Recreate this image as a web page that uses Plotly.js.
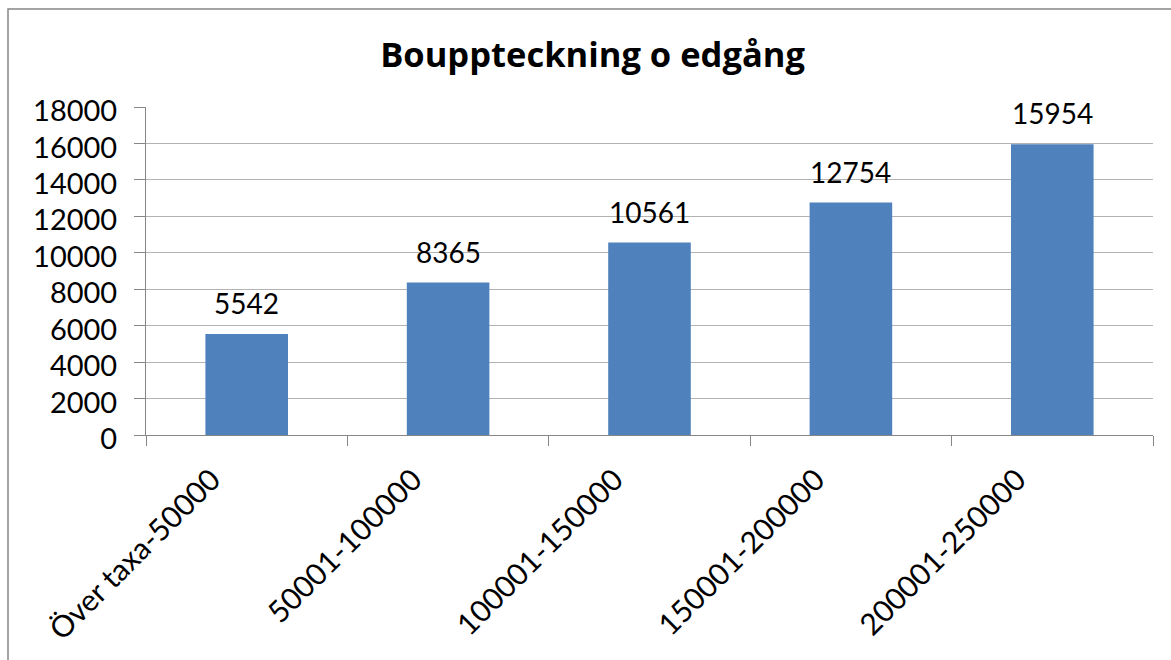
<!DOCTYPE html>
<html>
<head>
<meta charset="utf-8">
<script src="https://cdn.plot.ly/plotly-3.0.1.min.js"></script>
<style>html,body{margin:0;padding:0;background:#fff;}#chart{width:1171px;height:660px;}</style>
</head>
<body>
<div id="chart"></div>
<script>
var categories = ["Över taxa-50000", "50001-100000", "100001-150000", "150001-200000", "200001-250000"];
var values = [5542, 8365, 10561, 12754, 15954];
var yTicks = [0, 2000, 4000, 6000, 8000, 10000, 12000, 14000, 16000, 18000];

var FONT = "Lato, 'Open Sans', sans-serif";

var trace = {
  type: "bar",
  x: categories,
  y: values,
  marker: {color: "#4f81bd"},
  hoverinfo: "x+y"
};

var annotations = categories.map(function(c, i) {
  return {
    x: c, y: values[i], xref: "x", yref: "y",
    text: String(values[i]),
    showarrow: false,
    yanchor: "bottom",
    yshift: 12,
    font: {family: FONT, size: 28, color: "#000"}
  };
});

var layout = {
  width: 1171, height: 660,
  margin: {l: 146, r: 18, t: 107, b: 225},
  paper_bgcolor: "#fff", plot_bgcolor: "#fff",
  bargap: 0.59,
  showlegend: false,
  title: {
    text: "<b>Bouppteckning o edgång</b>",
    x: 0.506, xanchor: "center",
    y: 0.917, yanchor: "middle",
    font: {family: "'Open Sans', Lato, sans-serif", size: 34.5, color: "#000"}
  },
  xaxis: {
    type: "category",
    tickangle: -45,
    tickson: "boundaries",
    ticks: "outside", ticklen: 10, tickcolor: "#868686", tickwidth: 1,
    showline: true, linecolor: "#868686", linewidth: 1,
    showgrid: false,
    ticklabelshift: -35,
    ticklabelstandoff: 14,
    tickfont: {family: FONT, size: 30, color: "#000"}
  },
  yaxis: {
    range: [0, 18000],
    tickvals: yTicks,
    ticktext: yTicks.map(String),
    ticks: "outside", ticklen: 11, tickcolor: "#868686", tickwidth: 1,
    showline: true, linecolor: "#868686", linewidth: 1,
    showgrid: true, gridcolor: "#b3b3b3", gridwidth: 1,
    zeroline: false,
    ticklabelstandoff: 11,
    ticklabelshift: 4,
    tickfont: {family: FONT, size: 29, color: "#000"}
  },
  annotations: annotations,
  shapes: [{
    type: "rect", xref: "paper", yref: "paper",
    x0: -138/1007, x1: 1.2, y0: -1, y1: 1 + 98/328,
    line: {color: "#868686", width: 1.5}, fillcolor: "rgba(0,0,0,0)", layer: "below"
  }]
};

Plotly.newPlot("chart", [trace], layout, {displayModeBar: false, staticPlot: true});
</script>
</body>
</html>
